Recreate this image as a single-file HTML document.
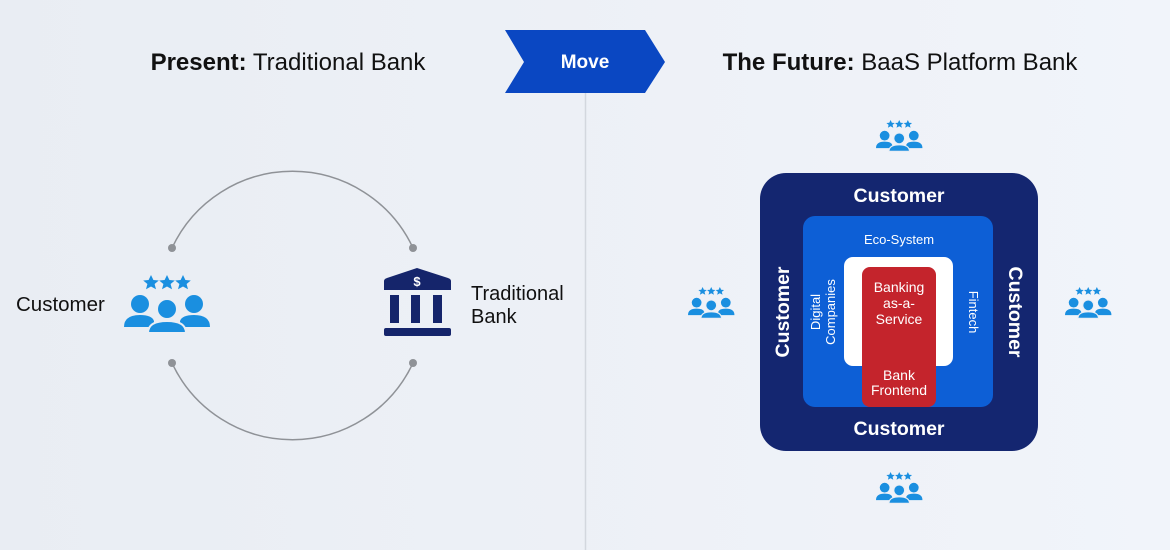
<!DOCTYPE html>
<html><head><meta charset="utf-8"><style>
body{margin:0;width:1170px;height:550px;overflow:hidden;font-family:"Liberation Sans",sans-serif;}
</style></head><body>
<svg width="1170" height="550" viewBox="0 0 1170 550" xmlns="http://www.w3.org/2000/svg" font-family="Liberation Sans, sans-serif">
<defs>
<linearGradient id="bg" x1="0" x2="1" y1="0" y2="0"><stop offset="0" stop-color="#e9edf3"/><stop offset="1" stop-color="#f1f4fa"/></linearGradient>
<g id="ppl">
  <polygon points="10,0 12.4,5 17.8,5.5 13.6,9 15,14.3 10,11.5 5,14.3 6.4,9 2.2,5.5 7.6,5" transform="translate(17,0)"/>
  <polygon points="10,0 12.4,5 17.8,5.5 13.6,9 15,14.3 10,11.5 5,14.3 6.4,9 2.2,5.5 7.6,5" transform="translate(33,0)"/>
  <polygon points="10,0 12.4,5 17.8,5.5 13.6,9 15,14.3 10,11.5 5,14.3 6.4,9 2.2,5.5 7.6,5" transform="translate(49,0)"/>
  <circle cx="16" cy="29" r="9"/><circle cx="70" cy="29" r="9"/>
  <path d="M0,52 Q0,40 16,40 Q28,40 30,46 L30,52 Z"/>
  <path d="M86,52 Q86,40 70,40 Q58,40 56,46 L56,52 Z"/>
  <circle cx="43" cy="34" r="10" stroke="#eaeef4" stroke-width="2"/>
  <path d="M24,58 Q24,46 43,46 Q62,46 62,58 Z" stroke="#eaeef4" stroke-width="2"/>
</g>
</defs>
<rect width="1170" height="550" fill="url(#bg)"/>
<line x1="585.5" y1="93" x2="585.5" y2="550" stroke="#d3d7de" stroke-width="1.5"/>
<text x="288" y="70" font-size="24" text-anchor="middle" fill="#111"><tspan font-weight="bold">Present:</tspan> Traditional Bank</text>
<text x="900" y="70" font-size="24" text-anchor="middle" fill="#111"><tspan font-weight="bold">The Future:</tspan> BaaS Platform Bank</text>
<polygon points="505,30 645,30 665,62 645,93 505,93 524,62" fill="#0a47c2"/>
<text x="585" y="68" font-size="19" font-weight="bold" fill="#fff" text-anchor="middle">Move</text>
<path d="M172,248 A133,133 0 0 1 413,248" fill="none" stroke="#8f9297" stroke-width="1.5"/>
<path d="M172,363 A133,133 0 0 0 413,363" fill="none" stroke="#8f9297" stroke-width="1.5"/>
<g fill="#8f9297"><circle cx="172" cy="248" r="4"/><circle cx="413" cy="248" r="4"/><circle cx="172" cy="363" r="4"/><circle cx="413" cy="363" r="4"/></g>
<text x="16" y="311" font-size="20.5" fill="#111">Customer</text>
<g fill="#1a8fe0" transform="translate(124,275)"><use href="#ppl"/></g>
<g fill="#15256b">
<path d="M384,290 L384,281 Q384,279 387,278 L417,268 L448,278 Q451,279 451,281 L451,290 Z"/>
<rect x="390" y="295" width="9" height="28"/><rect x="411" y="295" width="9" height="28"/><rect x="433" y="295" width="9" height="28"/>
<rect x="384" y="328" width="67" height="8" rx="2"/>
</g>
<text x="417" y="286" font-size="13" font-weight="bold" fill="#fff" text-anchor="middle">$</text>
<text x="471" y="300" font-size="20" fill="#111">Traditional</text>
<text x="471" y="323" font-size="20" fill="#111">Bank</text>
<g fill="#1a8fe0">
<g transform="translate(876,120) scale(0.54)"><use href="#ppl"/></g>
<g transform="translate(876,472) scale(0.54)"><use href="#ppl"/></g>
<g transform="translate(688,287) scale(0.54)"><use href="#ppl"/></g>
<g transform="translate(1065,287) scale(0.54)"><use href="#ppl"/></g>
</g>
<rect x="760" y="173" width="278" height="278" rx="26" fill="#142670"/>
<rect x="803" y="216" width="190" height="191" rx="12" fill="#0d5fd6"/>
<rect x="844" y="257" width="109" height="109" rx="9" fill="#fff"/>
<rect x="862" y="267" width="74" height="140" rx="8" fill="#c4242c"/>
<g fill="#fff" font-weight="bold" text-anchor="middle">
<text x="899" y="202" font-size="19.5">Customer</text>
<text x="899" y="435" font-size="19.5">Customer</text>
<text transform="translate(789,312) rotate(-90)" font-size="19.5">Customer</text>
<text transform="translate(1009,312) rotate(90)" font-size="19.5">Customer</text>
</g>
<g fill="#fff" text-anchor="middle" font-size="13">
<text x="899" y="244">Eco-System</text>
<text transform="translate(820,312) rotate(-90)">Digital</text>
<text transform="translate(835,312) rotate(-90)">Companies</text>
<text transform="translate(969,312) rotate(90)">Fintech</text>
</g>
<g fill="#fff" text-anchor="middle" font-size="14">
<text x="899" y="292">Banking</text>
<text x="899" y="308">as-a-</text>
<text x="899" y="324">Service</text>
<text x="899" y="380">Bank</text>
<text x="899" y="395">Frontend</text>
</g>
</svg>
</body></html>
